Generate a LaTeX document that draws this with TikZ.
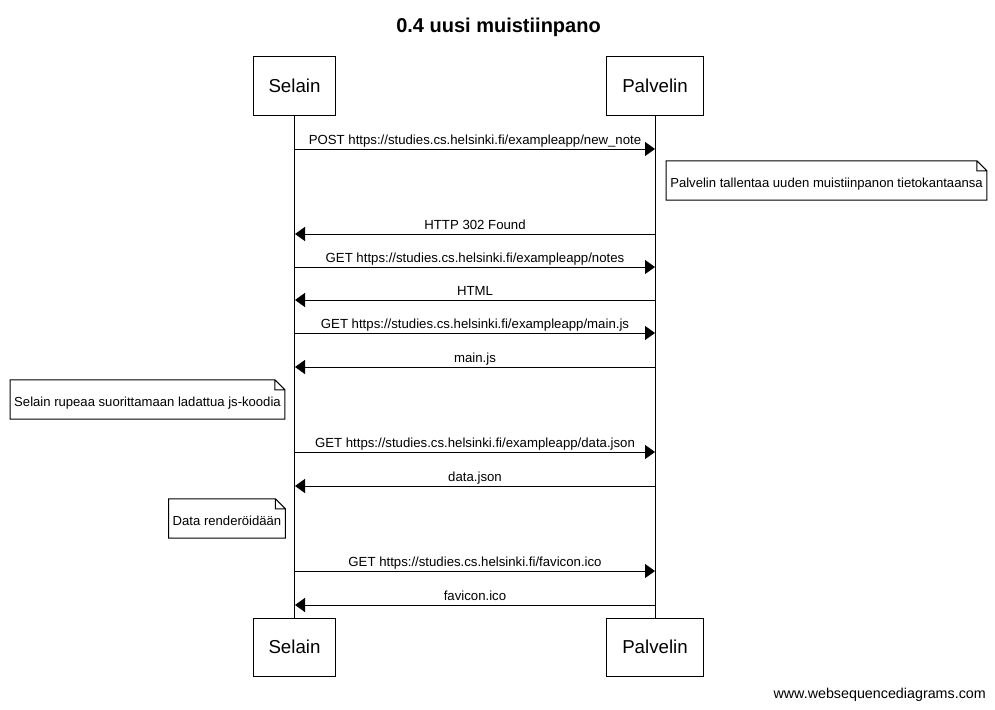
\documentclass[tikz,border=0pt]{standalone}
\usepackage{fontspec}
\setmainfont{Liberation Sans}
\usetikzlibrary{arrows.meta}

\tikzset{
  actor/.style={draw, line width=1pt, minimum height=58pt, inner xsep=15.5pt,
    font=\fontsize{18.7}{22}\selectfont},
  msg/.style={line width=1pt, -{Triangle[length=10pt,width=14pt]}},
  lbl/.style={midway, anchor=base, yshift=4.5pt, inner sep=0pt,
    font=\fontsize{13.2}{15}\selectfont},
  note/.style={minimum height=39pt, inner xsep=4pt, inner ysep=0pt,
    text height=13pt, text depth=0pt, font=\fontsize{13.1}{15}\selectfont},
}

\begin{document}
\begin{tikzpicture}[x=1pt, y=-1pt]
        \useasboundingbox (0, 0) rectangle (995, 709);

        \node [anchor=base, font=\bfseries\fontsize{20}{24}\selectfont] (title) at (498.5, 33) {0.4 uusi muistiinpano};

        % participants
        \node [actor] (selain) at (294.5, 86) {Selain};
        \node [actor] (palvelin) at (655, 86) {Palvelin};
        \node [actor] (selainB) at (294.5, 647) {Selain};
        \node [actor] (palvelinB) at (655, 647) {Palvelin};

        \draw [line width=1pt] (selain) -- (selainB);
        \draw [line width=1pt] (palvelin) -- (palvelinB);

        % message rows
        \foreach \i/\y in {1/149, 2/234, 3/267, 4/300, 5/333, 6/367, 7/452, 8/486, 9/571, 10/605} {
          \coordinate (s\i) at (295, \y);
          \coordinate (p\i) at (655, \y);
        }

        \draw [msg] (s1) -- node [lbl] {POST https://studies.cs.helsinki.fi/exampleapp/new\_note} (p1);
        \draw [msg] (p2) -- node [lbl] {HTTP 302 Found} (s2);
        \draw [msg] (s3) -- node [lbl] {GET https://studies.cs.helsinki.fi/exampleapp/notes} (p3);
        \draw [msg] (p4) -- node [lbl] {HTML} (s4);
        \draw [msg] (s5) -- node [lbl] {GET https://studies.cs.helsinki.fi/exampleapp/main.js} (p5);
        \draw [msg] (p6) -- node [lbl] {main.js} (s6);
        \draw [msg] (s7) -- node [lbl] {GET https://studies.cs.helsinki.fi/exampleapp/data.json} (p7);
        \draw [msg] (p8) -- node [lbl] {data.json} (s8);
        \draw [msg] (s9) -- node [lbl] {GET https://studies.cs.helsinki.fi/favicon.ico} (p9);
        \draw [msg] (p10) -- node [lbl] {favicon.ico} (s10);

        % notes
        \node [note, minimum width=319pt] (tallennus) at (826.5, 180.5) {Palvelin tallentaa uuden muistiinpanon tietokantaansa};
        \node [note, minimum width=273pt] (suoritus) at (147.5, 399.5) {Selain rupeaa suorittamaan ladattua js-koodia};
        \node [note, minimum width=114pt] (renderointi) at (227, 518.5) {Data renderöidään};

        \foreach \n in {tallennus, suoritus, renderointi}
          \draw [line width=1pt] (\n.north west) -- ([xshift=-10pt]\n.north east) -- ([yshift=-10pt]\n.north east)
            -- (\n.south east) -- (\n.south west) -- cycle
            ([xshift=-10pt]\n.north east) |- ([yshift=-10pt]\n.north east);

        \node [anchor=base east, inner sep=0pt, font=\fontsize{14.3}{16}\selectfont] (www) at (986, 698) {www.websequencediagrams.com};
      \end{tikzpicture}
\end{document}
